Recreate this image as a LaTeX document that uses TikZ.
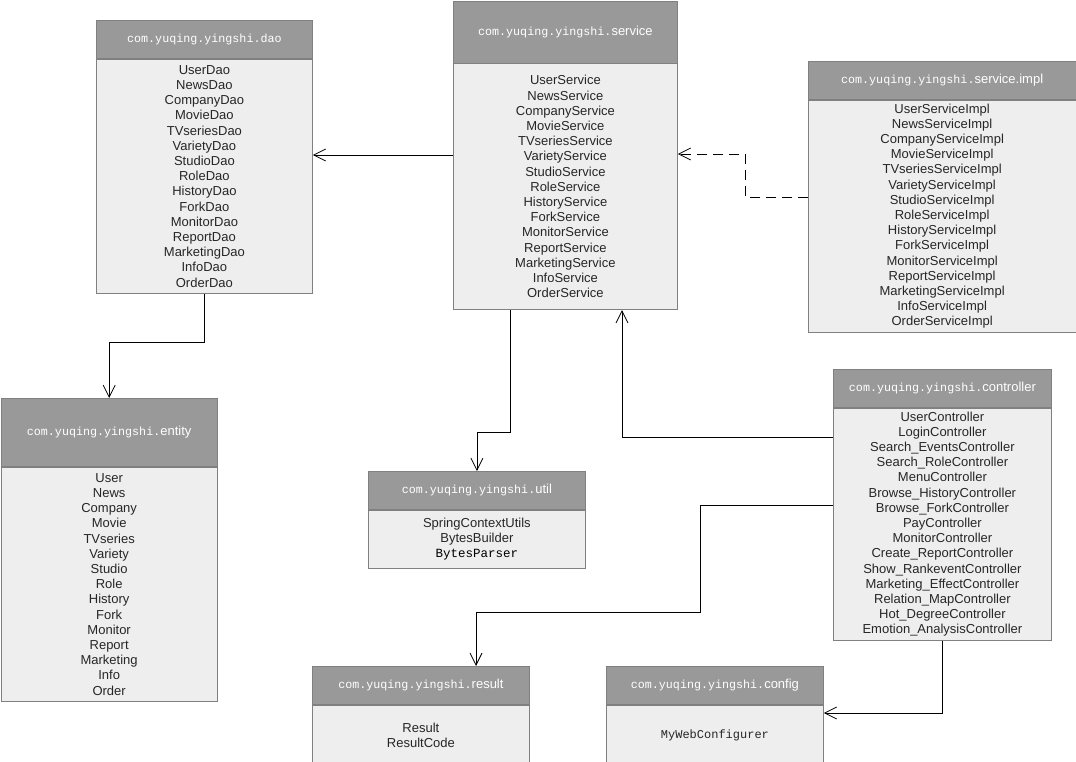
\documentclass[tikz,border=0pt]{standalone}
\usepackage{fontspec}
\setmainfont{Liberation Sans}
\setmonofont{Liberation Mono}
\usetikzlibrary{positioning,arrows.meta}
\definecolor{headgray}{HTML}{999999}
\definecolor{bodygray}{HTML}{EEEEEE}
\definecolor{edgegray}{HTML}{808080}
\newcommand{\pkgprefix}{{\ttfamily\fontsize{11.7}{14}\selectfont com.yuqing.yingshi.}}
\newcommand{\monoitem}[1]{{\ttfamily\fontsize{12}{15.2}\selectfont #1}}

\begin{document}
\begin{tikzpicture}[x=1pt, y=-1pt,
    head/.style={rectangle, draw=edgegray, fill=headgray, text=white, anchor=north west, inner sep=0pt, line width=0.8pt, font=\fontsize{13}{15}\selectfont},
    list/.style={rectangle, draw=edgegray, fill=bodygray, text=black!85, align=center, inner sep=0pt, line width=0.8pt, font=\fontsize{13}{15.2}\selectfont},
    arrow/.style={-{Straight Barb[length=12pt, width=12pt]}, line width=0.8pt},
    dep/.style={arrow, dash pattern=on 10pt off 6pt}
]
\useasboundingbox (0,0) rectangle (1076,761);

% packages
\node[head, minimum width=216pt, minimum height=38pt] (dao) at (96,20) {{\ttfamily\fontsize{11.7}{14}\selectfont com.yuqing.yingshi.dao}};
\node[list, minimum width=216pt, minimum height=234pt, below=0pt of dao] (daolist) {UserDao\\NewsDao\\CompanyDao\\MovieDao\\TVseriesDao\\VarietyDao\\StudioDao\\RoleDao\\HistoryDao\\ForkDao\\MonitorDao\\ReportDao\\MarketingDao\\InfoDao\\OrderDao};

\node[head, minimum width=224pt, minimum height=62pt] (service) at (453,0.5) {\pkgprefix service};
\node[list, minimum width=224pt, minimum height=246pt, below=0pt of service] (servicelist) {UserService\\NewsService\\CompanyService\\MovieService\\TVseriesService\\VarietyService\\StudioService\\RoleService\\HistoryService\\ForkService\\MonitorService\\ReportService\\MarketingService\\InfoService\\OrderService};

\node[head, minimum width=267.5pt, minimum height=38pt] (impl) at (808,61) {\pkgprefix service.impl};
\node[list, minimum width=267.5pt, minimum height=232pt, below=0pt of impl] (impllist) {UserServiceImpl\\NewsServiceImpl\\CompanyServiceImpl\\MovieServiceImpl\\TVseriesServiceImpl\\VarietyServiceImpl\\StudioServiceImpl\\RoleServiceImpl\\HistoryServiceImpl\\ForkServiceImpl\\MonitorServiceImpl\\ReportServiceImpl\\MarketingServiceImpl\\InfoServiceImpl\\OrderServiceImpl};

\node[head, minimum width=216.5pt, minimum height=68pt] (entity) at (0.5,398) {\pkgprefix entity};
\node[list, minimum width=216.5pt, minimum height=234pt, below=0pt of entity] (entitylist) {User\\News\\Company\\Movie\\TVseries\\Variety\\Studio\\Role\\History\\Fork\\Monitor\\Report\\Marketing\\Info\\Order};

\node[head, minimum width=217pt, minimum height=38pt] (util) at (368,471) {\pkgprefix util};
\node[list, minimum width=217pt, minimum height=58pt, below=0pt of util] (utillist) {SpringContextUtils\\BytesBuilder\\{\color{black}\ttfamily\fontsize{12.5}{17}\selectfont BytesParser}};

\node[head, minimum width=218pt, minimum height=38pt] (controller) at (833,369) {\pkgprefix controller};
\node[list, minimum width=218pt, minimum height=232pt, below=0pt of controller] (controllerlist) {UserController\\LoginController\\Search\_EventsController\\Search\_RoleController\\MenuController\\Browse\_HistoryController\\Browse\_ForkController\\PayController\\MonitorController\\Create\_ReportController\\Show\_RankeventController\\Marketing\_EffectController\\Relation\_MapController\\Hot\_DegreeController\\Emotion\_AnalysisController};

\node[head, minimum width=217pt, minimum height=38pt] (result) at (312,666) {\pkgprefix result};
\node[list, minimum width=217pt, minimum height=60pt, below=0pt of result] (resultlist) {Result\\ResultCode};

\node[head, minimum width=217pt, minimum height=38pt] (config) at (606,666) {\pkgprefix config};
\node[list, minimum width=217pt, minimum height=60pt, below=0pt of config] (configlist) {\monoitem{MyWebConfigurer}};

% dependencies
\draw[arrow] (servicelist.west |- 0,155) -- (daolist.east |- 0,155);
\draw[dep] (impllist.west |- 0,197) -- (745,197) |- (servicelist.east |- 0,154);
\draw[arrow] (daolist.south) -- (daolist.south |- 0,342) -| (entity.north);
\draw[arrow] (servicelist.south -| 510,0) -- (510,432) -| (util.north);
\draw[arrow] (controllerlist.west |- 0,437) -| (servicelist.south -| 622,0);
\draw[arrow] (controllerlist.west |- 0,505) -| (700,612) -| (result.north -| 476,0);
\draw[arrow] (controllerlist.south) |- (configlist.east |- 0,713);
\end{tikzpicture}
\end{document}
